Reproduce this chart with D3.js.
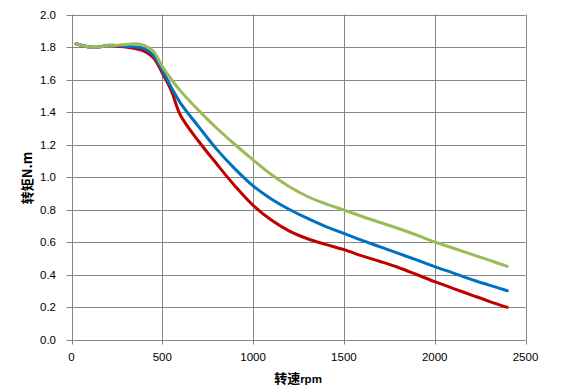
<!DOCTYPE html>
<html><head><meta charset="utf-8">
<script src="https://cdn.jsdelivr.net/npm/d3@7"></script>
<style>body{margin:0;background:#fff}svg{display:block}</style>
</head><body>
<svg id="c" width="563" height="391"></svg>
<script>
const rpm = [25,100,150,200,250,300,350,400,450,500,550,600,700,800,900,1000,1100,1200,1300,1400,1500,1600,1700,1800,1900,2000,2100,2200,2300,2400];
const greenVals = [1.82,1.80,1.80,1.81,1.81,1.815,1.82,1.81,1.775,1.68,1.60,1.53,1.41,1.30,1.20,1.105,1.015,0.94,0.88,0.835,0.797,0.757,0.72,0.683,0.643,0.60,0.563,0.525,0.488,0.45];
const blueVals  = [1.82,1.80,1.80,1.81,1.81,1.805,1.80,1.79,1.75,1.658,1.55,1.455,1.31,1.17,1.05,0.945,0.865,0.80,0.745,0.695,0.653,0.61,0.57,0.53,0.49,0.448,0.41,0.37,0.335,0.30];
const redVals   = [1.82,1.80,1.80,1.81,1.805,1.80,1.79,1.775,1.735,1.64,1.53,1.38,1.22,1.08,0.945,0.825,0.735,0.667,0.62,0.585,0.553,0.515,0.48,0.443,0.40,0.356,0.315,0.275,0.235,0.198];
const xTicks = [0,500,1000,1500,2000,2500];
const yTicks = [0,0.2,0.4,0.6,0.8,1.0,1.2,1.4,1.6,1.8,2.0];
const xTitle = "转速", xUnit = "rpm";
const yTitle = "转矩N.m";

const svg = d3.select("#c");
const L = 71.5, R = 525.5, T = 14.5, B = 339.5;
const x = d3.scaleLinear().domain([0,2500]).range([L,R]);
const y = d3.scaleLinear().domain([0,2]).range([B,T]);
const grid = "#868686";

// gridlines
svg.append("g").selectAll("line").data(yTicks).join("line")
  .attr("x1",L-5).attr("x2",R).attr("y1",d=>Math.round(y(d))+0.5).attr("y2",d=>Math.round(y(d))+0.5)
  .attr("stroke",grid).attr("stroke-width",1);
svg.append("g").selectAll("line").data(xTicks).join("line")
  .attr("y1",T).attr("y2",B+5).attr("x1",d=>Math.round(x(d))+0.5).attr("x2",d=>Math.round(x(d))+0.5)
  .attr("stroke",grid).attr("stroke-width",1);

// tick labels
const font = "'Liberation Sans', Arial, sans-serif";
svg.append("g").selectAll("text").data(yTicks).join("text")
  .attr("x",56).attr("y",d=>y(d)+4).attr("text-anchor","end")
  .attr("font-family",font).attr("font-size",11.5).attr("fill","#000")
  .text(d=>d3.format(".1f")(d));
svg.append("g").selectAll("text").data(xTicks).join("text")
  .attr("x",d=>x(d)).attr("y",361).attr("text-anchor","middle")
  .attr("font-family",font).attr("font-size",11.5).attr("fill","#000")
  .text(d=>d);

// lines
const line = d3.line().x((d,i)=>x(rpm[i])).y(d=>y(d)).curve(d3.curveCatmullRom.alpha(0.5));
[[redVals,"#C00000"],[blueVals,"#0070C0"],[greenVals,"#9BBB59"]].forEach(([v,c])=>{
  svg.append("path").attr("d",line(v)).attr("fill","none").attr("stroke",c)
    .attr("stroke-width",3).attr("stroke-linejoin","round").attr("stroke-linecap","round");
});

// axis titles
const xt = svg.append("text").attr("x",298).attr("y",383).attr("text-anchor","middle")
  .attr("font-weight","bold").attr("fill","#000");
xt.append("tspan").attr("font-family","'Noto Sans CJK SC', sans-serif").attr("font-size",13).text(xTitle);
xt.append("tspan").attr("font-family",font).attr("font-size",11.5).text(xUnit);

svg.append("text").attr("transform","translate(32,178) rotate(-90)").attr("text-anchor","middle")
  .attr("font-family","'Noto Sans CJK SC', sans-serif").attr("font-weight","bold")
  .attr("font-size",13).attr("fill","#000").text(yTitle);
</script>
</body></html>
